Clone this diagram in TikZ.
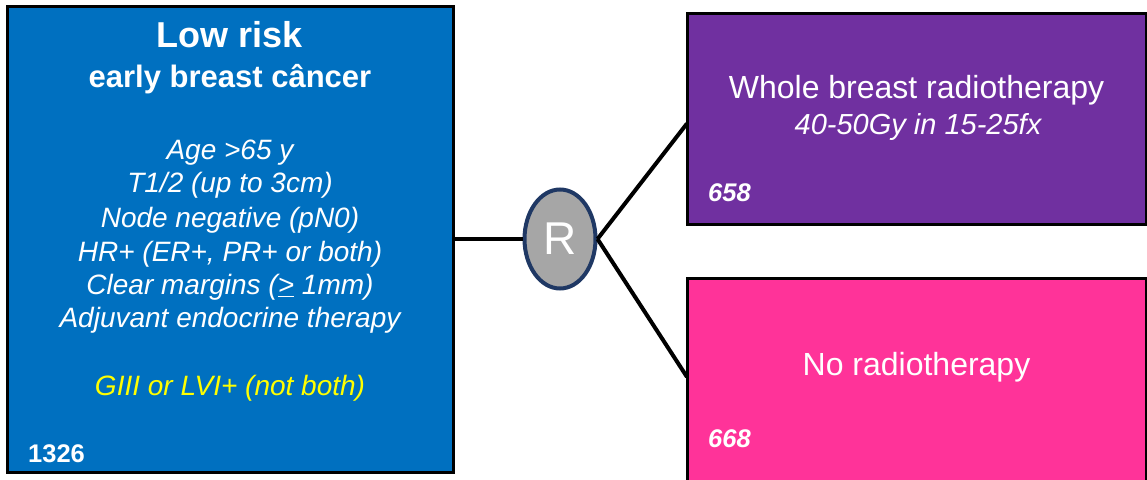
\documentclass[tikz,border=0pt]{standalone}
\usepackage{fontspec}
\setmainfont{Liberation Sans}
\usetikzlibrary{shapes.geometric,calc}
\definecolor{lowblue}{HTML}{0070C0}
\definecolor{wbpurple}{HTML}{7030A0}
\definecolor{nopink}{HTML}{FF3399}
\definecolor{rgray}{HTML}{A6A6A6}
\definecolor{rnavy}{HTML}{1F3864}
\definecolor{crityellow}{HTML}{FFFF00}
\begin{document}
\begin{tikzpicture}[x=1pt,y=1pt,
  box/.style={draw=black,line width=3pt,inner sep=0pt,outer sep=0pt},
  conn/.style={draw=black,line width=4pt},
  txt/.style={text=white,anchor=base,inner sep=0pt},
  numtxt/.style={text=white,anchor=base west,inner sep=0pt,font=\fontsize{25.5}{30}\selectfont\bfseries},
  crit/.style={txt,font=\fontsize{28}{33}\selectfont\itshape}]
\useasboundingbox (0,0) rectangle (1147,479);
\clip (0,0) rectangle (1147,479);
% boxes
\node[box,fill=lowblue,minimum width=446pt,minimum height=465pt] (L) at (230,239.5) {};
\node[box,fill=wbpurple,minimum width=459pt,minimum height=211pt] (P) at (916.5,359.5) {};
\node[box,fill=nopink,minimum width=459pt,minimum height=206pt] (K) at (916.5,97) {};
\node[ellipse,draw=rnavy,line width=4pt,fill=rgray,minimum width=71pt,minimum height=99pt,inner sep=0pt,text=white,font=\fontsize{46}{50}\selectfont] (R) at (560,240) {R};
% connectors
\draw[conn] (L.east |- R.west) -- (R.west);
\draw[conn] (R.east) -- ($(P.west)+(0,-4)$);
\draw[conn] (R.east) -- ($(K.west)+(0,5)$);
% left box text
\node[txt,font=\fontsize{36}{40}\selectfont\bfseries] (t1) at (230,431) {Low risk};
\node[txt,font=\fontsize{31}{36}\selectfont\bfseries] (t2) at (230,391) {early breast câncer};
\node[crit] (c1) at (230,319) {Age >65 y};
\node[crit] (c2) at (230,286) {T1/2 (up to 3cm)};
\node[crit] (c3) at (230,251) {Node negative (pN0)};
\node[crit] (c4) at (230,217) {HR+ (ER+, PR+ or both)};
\node[crit] (c5) at (230,184) {Clear margins (\underline{>} 1mm)};
\node[crit] (c6) at (230,151) {Adjuvant endocrine therapy};
\node[crit,text=crityellow] (c7) at (230,84) {GIII or LVI+ (not both)};
\node[numtxt] (n1) at (28,17) {1326};
% right boxes text
\node[txt,font=\fontsize{32}{36}\selectfont] (w1) at (916.5,380) {Whole breast radiotherapy};
\node[txt,font=\fontsize{29}{33}\selectfont\itshape] (w2) at (918,344) {40-50Gy in 15-25fx};
\node[numtxt,font=\fontsize{25.5}{30}\selectfont\bfseries\itshape] (n2) at (708,277) {658};
\node[txt,font=\fontsize{32}{36}\selectfont] (k1) at (916.5,103) {No radiotherapy};
\node[numtxt,font=\fontsize{25.5}{30}\selectfont\bfseries\itshape] (n3) at (708,32) {668};
\end{tikzpicture}
\end{document}
